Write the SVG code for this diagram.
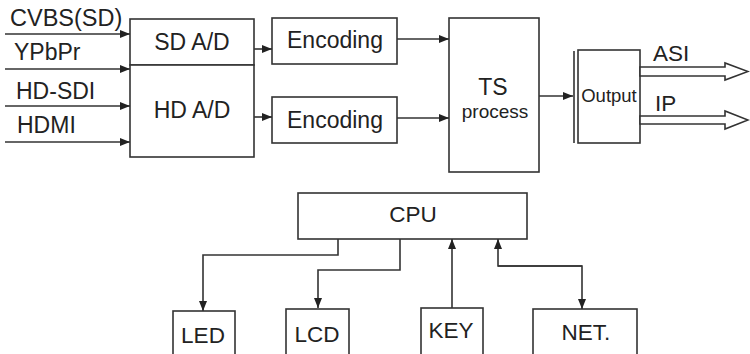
<svg xmlns="http://www.w3.org/2000/svg" width="750" height="354" viewBox="0 0 750 354">
<style>
.b{fill:#fff;stroke:#333;stroke-width:1.6}
.c{fill:none;stroke:#333;stroke-width:1.6}
text{font-family:"Liberation Sans",Arial,sans-serif;fill:#222;font-size:23px}
.m{text-anchor:middle}
.s{font-size:22.5px}
</style>
<defs>
<marker id="ar" markerUnits="userSpaceOnUse" markerWidth="10" markerHeight="8" refX="10" refY="4" orient="auto">
<path d="M0,0 L10,4 L0,8 z" fill="#222"/>
</marker>
</defs>
<rect width="750" height="354" fill="#fff"/>
<g id="inputs">
<text x="10" y="26" style="font-size:23.5px">CVBS(SD)</text>
<text x="14" y="60">YPbPr</text>
<text x="16" y="99">HD-SDI</text>
<text x="17" y="133">HDMI</text>
</g>
<g id="sdad"><rect class="b" x="130" y="19" width="124" height="46"/><text class="m" x="192" y="50">SD A/D</text></g>
<g id="hdad"><rect class="b" x="130" y="65" width="124" height="92"/><text class="m" x="192" y="118">HD A/D</text></g>
<g id="enc1"><rect class="b" x="272" y="18" width="125" height="46"/><text class="m" x="335" y="48">Encoding</text></g>
<g id="enc2"><rect class="b" x="272" y="97" width="125" height="46"/><text class="m" x="335" y="128">Encoding</text></g>
<g id="ts"><rect class="b" x="449" y="18" width="90" height="154"/><text class="m" x="493" y="95">TS</text><text class="m" x="495" y="118" style="font-size:19px">process</text></g>
<g id="output"><line class="c" x1="574" y1="51" x2="574" y2="143"/><rect class="b" x="578" y="50" width="62" height="93"/><text class="m" x="609" y="102" style="font-size:18.5px">Output</text></g>
<g id="asi"><path class="b" d="M640,67 L725,67 L725,63 L748,71.5 L725,80 L725,76 L640,76 z"/><text x="653" y="61" class="s">ASI</text></g>
<g id="ip"><path class="b" d="M640,116 L725,116 L725,111 L748,120 L725,129 L725,124 L640,124 z"/><text x="655" y="111" class="s">IP</text></g>
<g id="cpu"><rect class="b" x="298" y="193" width="229" height="46"/><text class="m s" x="413" y="222">CPU</text></g>
<g id="led"><rect class="b" x="173" y="311" width="62" height="60"/><text class="m s" x="203" y="343">LED</text></g>
<g id="lcd"><rect class="b" x="286" y="309" width="63" height="60"/><text class="m s" x="317" y="342">LCD</text></g>
<g id="key"><rect class="b" x="421" y="308" width="62" height="60"/><text class="m s" x="451" y="338">KEY</text></g>
<g id="net"><rect class="b" x="533" y="309" width="104" height="60"/><text class="m s" x="586" y="340">NET.</text></g>
<g id="connectors">
<line class="c" x1="5" y1="34" x2="130" y2="34" marker-end="url(#ar)"/>
<line class="c" x1="5" y1="69" x2="130" y2="69" marker-end="url(#ar)"/>
<line class="c" x1="5" y1="106" x2="130" y2="106" marker-end="url(#ar)"/>
<line class="c" x1="5" y1="142" x2="130" y2="142" marker-end="url(#ar)"/>
<line class="c" x1="254" y1="49" x2="272" y2="49" marker-end="url(#ar)"/>
<line class="c" x1="254" y1="117" x2="272" y2="117" marker-end="url(#ar)"/>
<line class="c" x1="397" y1="39" x2="449" y2="39" marker-end="url(#ar)"/>
<line class="c" x1="397" y1="118" x2="449" y2="118" marker-end="url(#ar)"/>
<line class="c" x1="539" y1="96" x2="573" y2="96" marker-end="url(#ar)"/>
<path class="c" d="M338,239 V255 H203 V311" marker-end="url(#ar)"/>
<path class="c" d="M400,239 V270 H318 V308" marker-end="url(#ar)"/>
<line class="c" x1="452" y1="308" x2="452" y2="239" marker-end="url(#ar)"/>
<path class="c" d="M582,266 H498 V239" marker-end="url(#ar)"/>
<path class="c" d="M498,266 H582 V309" marker-end="url(#ar)"/>
</g>
</svg>
